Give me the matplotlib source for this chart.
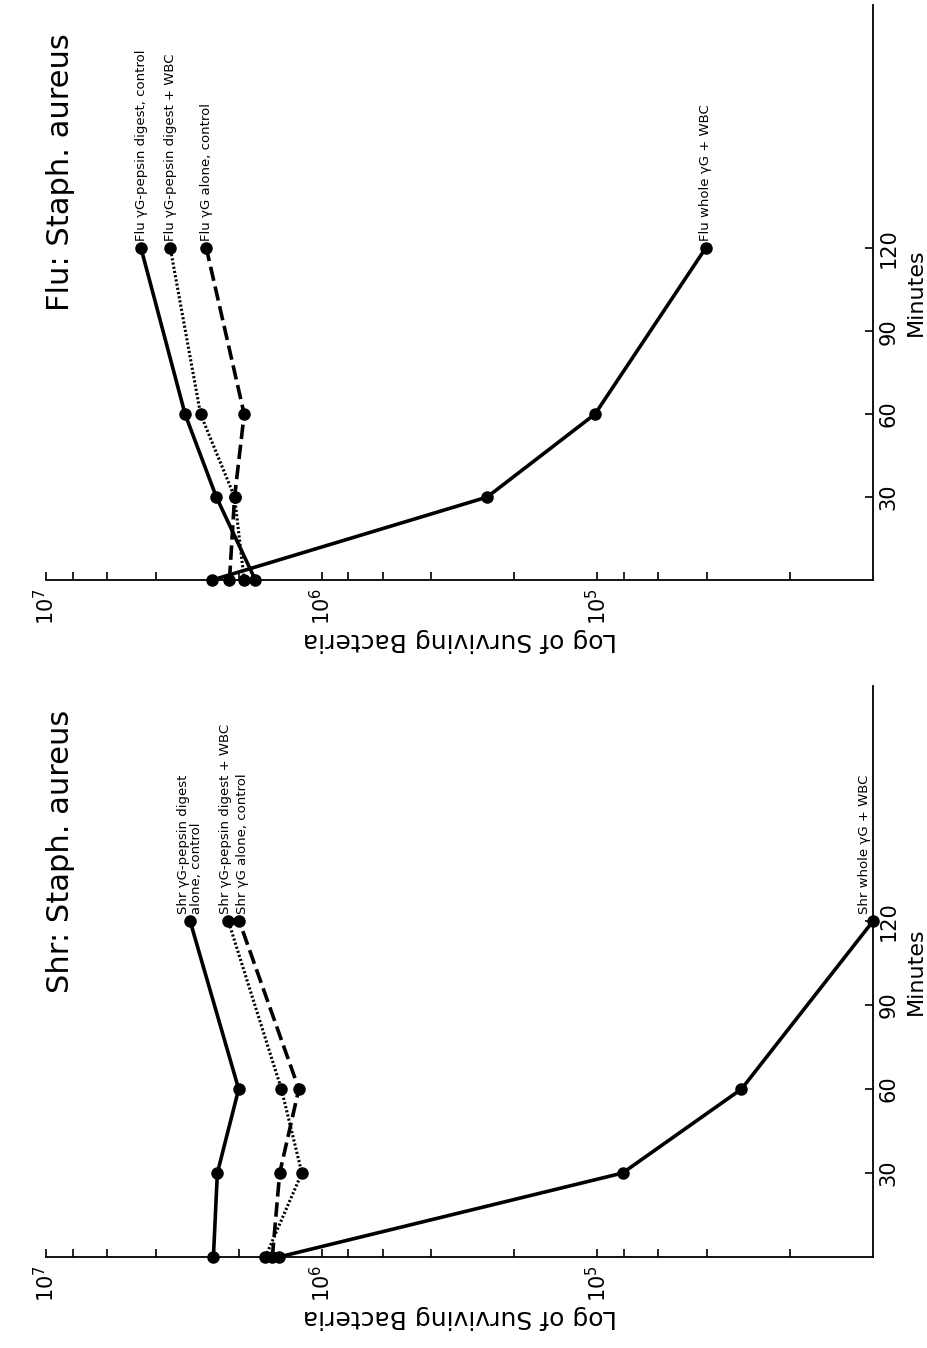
import matplotlib.pyplot as plt

plt.rcParams['font.family'] = ['DejaVu Sans']

# time points (minutes)
minutes = [0, 30, 60, 120]

# Flu panel, surviving bacteria
flu_digest_control = [1.74e6, 2.41e6, 3.13e6, 4.52e6]
flu_digest_wbc = [1.91e6, 2.07e6, 2.75e6, 3.54e6]
flu_alone_control = [2.16e6, 2.07e6, 1.91e6, 2.62e6]
flu_whole_wbc = [2.49e6, 2.51e5, 1.02e5, 4.05e4]

# Shr panel, surviving bacteria
shr_digest_control = [2.47e6, 2.39e6, 2.00e6, 3.00e6]
shr_digest_wbc = [1.60e6, 1.18e6, 1.40e6, 2.18e6]
shr_alone_control = [1.51e6, 1.42e6, 1.21e6, 1.99e6]
shr_whole_wbc = [1.43e6, 8.1e4, 3.0e4, 1.0e4]

flu_labels = ["Flu γG-pepsin digest, control", "Flu γG-pepsin digest + WBC",
              "Flu γG alone, control", "Flu whole γG + WBC"]
shr_labels = ["Shr γG-pepsin digest\nalone, control", "Shr γG-pepsin digest + WBC",
              "Shr γG alone, control", "Shr whole γG + WBC"]

minute_ticks = [30, 60, 90, 120]
decades = [1e7, 1e6, 1e5]
decade_labels = [r'$10^7$', r'$10^6$', r'$10^5$']
minor_ticks = [2e4, 4e4, 6e4, 8e4, 2e5, 4e5, 6e5, 8e5, 2e6, 4e6, 6e6, 8e6]

styles = [dict(linestyle='-', lw=2.6),
          dict(linestyle=(0, (0.7, 0.7)), lw=2.2),
          dict(linestyle=(0, (4, 1.6)), lw=2.6),
          dict(linestyle='-', lw=2.6)]

fig = plt.figure(figsize=(9.28, 13.48), dpi=100)
ax_flu = fig.add_axes([46 / 928, 1 - 580 / 1348, 827 / 928, 575 / 1348])
ax_shr = fig.add_axes([46 / 928, 1 - 1257 / 1348, 827 / 928, 571 / 1348])


def draw_panel(ax, series, labels, title, tmax, offsets):
    for vals, st, lab, off in zip(series, styles, labels, offsets):
        ax.plot(vals, minutes, color='black', marker='o', ms=8,
                clip_on=False, zorder=3, **st)
        ax.annotate(lab, (vals[-1], minutes[-1]), xytext=off,
                    textcoords='offset points', rotation=90,
                    rotation_mode='anchor', ha='left', va='center',
                    fontsize=9.5, linespacing=0.95)
    ax.set_xscale('log')
    ax.set_xlim(1e7, 1e4)
    ax.set_ylim(0, tmax)
    for s in ['top', 'left']:
        ax.spines[s].set_visible(False)
    for s in ['bottom', 'right']:
        ax.spines[s].set_linewidth(1.3)
    ax.set_xticks(decades)
    ax.set_xticklabels(decade_labels, rotation=90, fontsize=15)
    ax.set_xticks(minor_ticks, minor=True)
    ax.set_xticklabels([], minor=True)
    ax.set_yticks(minute_ticks)
    ax.set_yticklabels([str(m) for m in minute_ticks], rotation=90,
                       fontsize=15, va='center')
    ax.yaxis.tick_right()
    ax.yaxis.set_label_position('right')
    ax.tick_params(axis='x', which='both', direction='in', length=6,
                   width=1.2, pad=6)
    ax.tick_params(axis='y', direction='in', length=6, width=1.2, pad=4)
    ax.set_xlabel('Log of Surviving Bacteria', rotation=180, fontsize=18,
                  labelpad=2)
    ax.set_ylabel('Minutes', rotation=90, fontsize=16, labelpad=5)
    ax.text(0.018, 0.71, title, transform=ax.transAxes, rotation=90,
            ha='center', va='center', fontsize=22)


draw_panel(ax_flu, [flu_digest_control, flu_digest_wbc, flu_alone_control, flu_whole_wbc],
           flu_labels, 'Flu: Staph. aureus', 208,
           [(0, 5), (0, 5), (0, 5), (0, 5)])
draw_panel(ax_shr, [shr_digest_control, shr_digest_wbc, shr_alone_control, shr_whole_wbc],
           shr_labels, 'Shr: Staph. aureus', 204,
           [(0, 5), (-2, 5), (2, 5), (-6, 5)])

fig.savefig('out.png', dpi=100)
